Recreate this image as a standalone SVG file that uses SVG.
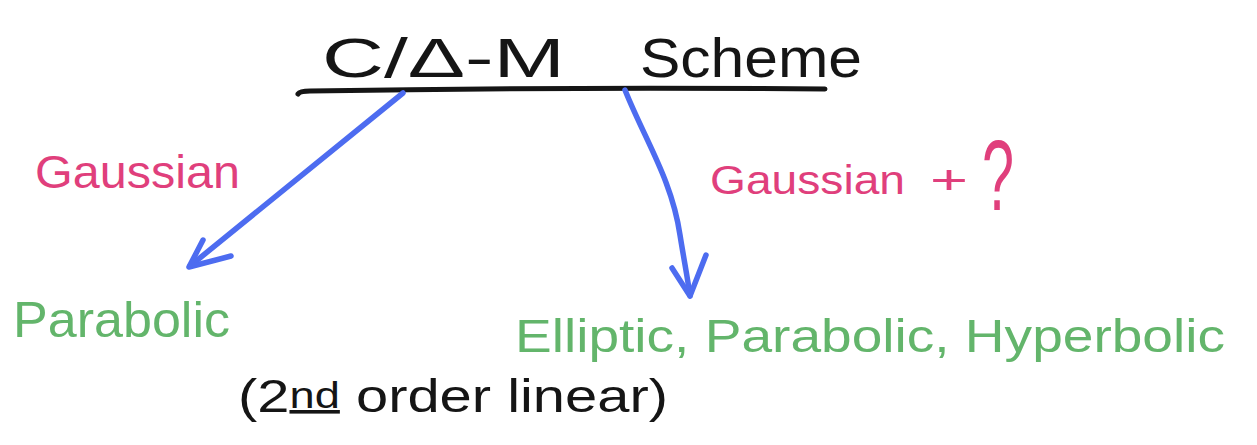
<svg xmlns="http://www.w3.org/2000/svg" width="1257" height="445" viewBox="0 0 1257 445">
  <style>
    .hand { font-family: "Liberation Sans", "DejaVu Sans", sans-serif; }
    .ink { fill: #151515; }
    .pink { fill: #e03f7c; }
    .green { fill: #63b56b; }
    .stroke-ink { stroke: #151515; stroke-width: 5; stroke-linecap: round; fill: none; }
    .arrow { stroke: #4d6cf0; stroke-width: 5.5; stroke-linecap: round; stroke-linejoin: round; fill: none; }
  </style>
  <rect width="1257" height="445" fill="#ffffff"/>

  <!-- heading with underline -->
  <g id="title">
    <text class="hand ink" x="322" y="77" font-size="56" textLength="243" lengthAdjust="spacingAndGlyphs">C/Δ-M</text>
    <text class="hand ink" x="640" y="77" font-size="56" textLength="222" lengthAdjust="spacingAndGlyphs">Scheme</text>
    <path class="stroke-ink" d="M298,94 Q300,91 310,91 Q560,87 825,89"/>
  </g>

  <!-- branch labels -->
  <g id="label-left">
    <text class="hand pink" x="35" y="188" font-size="46" textLength="205" lengthAdjust="spacingAndGlyphs">Gaussian</text>
  </g>
  <g id="label-right">
    <text class="hand pink" x="710" y="194" font-size="40" textLength="195" lengthAdjust="spacingAndGlyphs">Gaussian</text>
    <text class="hand pink" x="930" y="194" font-size="40" textLength="38" lengthAdjust="spacingAndGlyphs">+</text>
    <text class="hand pink" x="982" y="210" font-size="100" textLength="32" lengthAdjust="spacingAndGlyphs">?</text>
  </g>

  <!-- outcome nodes -->
  <g id="node-parabolic">
    <text class="hand green" x="13" y="337" font-size="50" textLength="217" lengthAdjust="spacingAndGlyphs">Parabolic</text>
  </g>
  <g id="node-all-types">
    <text class="hand green" x="515" y="352" font-size="46" textLength="710" lengthAdjust="spacingAndGlyphs">Elliptic, Parabolic, Hyperbolic</text>
  </g>
  <g id="note">
    <text class="hand ink" x="238" y="412" font-size="46" textLength="430" lengthAdjust="spacingAndGlyphs">(2<tspan font-size="36" dy="-4" text-decoration="underline">nd</tspan><tspan dy="4"> order linear)</tspan></text>
  </g>

  <!-- connectors -->
  <g id="connectors">
    <path class="arrow" d="M403,93 L190,266"/>
    <path class="arrow" d="M203,240 L189,267 L231,256"/>
    <path class="arrow" d="M625,90 C645,140 672,180 680,235 C684,260 688,280 690,296"/>
    <path class="arrow" d="M672,268 L690,296 L706,255"/>
  </g>
</svg>
